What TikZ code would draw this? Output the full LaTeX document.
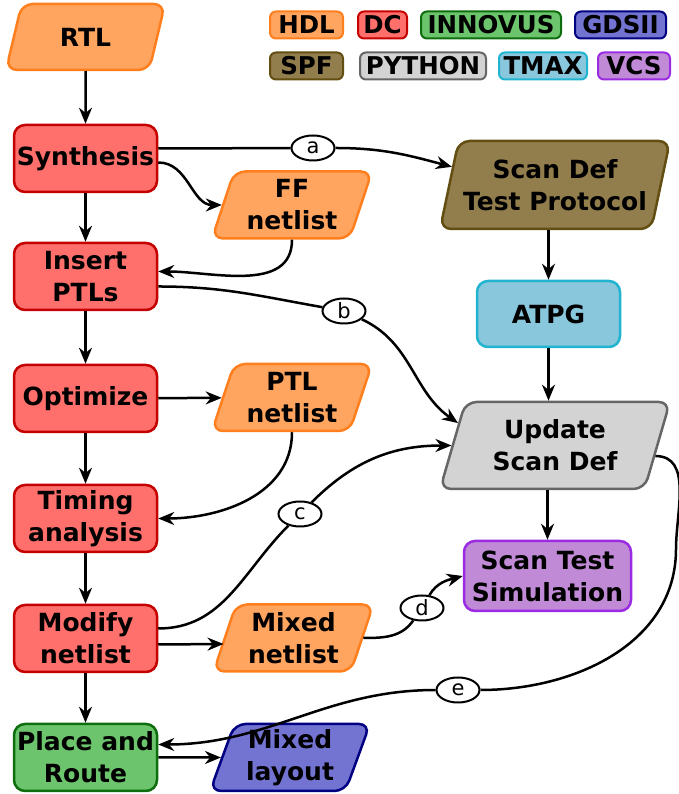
\documentclass[tikz,border=0pt]{standalone}
\usepackage{fontspec}
\setmainfont{DejaVu Sans}
\usetikzlibrary{shapes.geometric,arrows.meta}
\definecolor{hdlF}{HTML}{FFA55F}
\definecolor{hdlD}{HTML}{FF7F1E}
\definecolor{dcF}{HTML}{FF6F6B}
\definecolor{dcD}{HTML}{C40000}
\definecolor{innF}{HTML}{6CC46C}
\definecolor{innD}{HTML}{0E6E0E}
\definecolor{gdsF}{HTML}{7373D2}
\definecolor{gdsD}{HTML}{000080}
\definecolor{spfF}{HTML}{927D4C}
\definecolor{spfD}{HTML}{634E12}
\definecolor{pyF}{HTML}{D3D3D3}
\definecolor{pyD}{HTML}{666666}
\definecolor{tmF}{HTML}{89C7DD}
\definecolor{tmD}{HTML}{20B4D0}
\definecolor{vcsF}{HTML}{C08AD6}
\definecolor{vcsD}{HTML}{9A2BE2}
\begin{document}
\begin{tikzpicture}[x=1pt,y=1pt,
  every node/.style={align=center},
  txt/.style={font=\fontsize{25}{32}\selectfont\bfseries},
  box/.style={txt, rectangle, rounded corners=11pt, line width=2.5pt, minimum width=143pt, minimum height=67pt, inner sep=0pt},
  para/.style={txt, trapezium, trapezium left angle=71, trapezium right angle=109, trapezium stretches=true, rounded corners=11pt, line width=2.5pt, inner sep=0pt},
  hdl/.style={fill=hdlF, draw=hdlD},
  dc/.style={fill=dcF, draw=dcD},
  inn/.style={fill=innF, draw=innD},
  gds/.style={fill=gdsF, draw=gdsD},
  spf/.style={fill=spfF, draw=spfD},
  py/.style={fill=pyF, draw=pyD},
  tm/.style={fill=tmF, draw=tmD},
  vcs/.style={fill=vcsF, draw=vcsD},
  leg/.style={rectangle, rounded corners=6pt, line width=2pt, minimum height=27pt, inner xsep=0pt, inner ysep=1pt, font=\fontsize{24.5}{24.5}\selectfont\bfseries},
  conn/.style={line width=2.5pt, -{Stealth[length=16pt,width=13pt]}},
  plain/.style={line width=2.5pt},
  lbl/.style={ellipse, draw, line width=2pt, fill=white, minimum width=43pt, minimum height=25pt, inner sep=0pt, font=\fontsize{21}{21}\selectfont}
]
\useasboundingbox (0,0) rectangle (678,794);

% legend
\node[leg, hdl, minimum width=73pt] (lHDL) at (306.5,769) {HDL};
\node[leg, dc, minimum width=49pt] (lDC) at (382.5,769) {DC};
\node[leg, inn, minimum width=140pt] (lINN) at (491,769) {INNOVUS};
\node[leg, gds, minimum width=91pt] (lGDS) at (620.5,769) {GDSII};
\node[leg, spf, minimum width=73pt] (lSPF) at (306.5,728) {SPF};
\node[leg, py, minimum width=126pt] (lPY) at (423,728) {PYTHON};
\node[leg, tm, minimum width=88pt] (lTM) at (543,728) {TMAX};
\node[leg, vcs, minimum width=72pt] (lVCS) at (634,728) {VCS};

% left column
\node[para, hdl, minimum width=159pt, minimum height=66pt] (rtl) at (85.5,757) {RTL};
\node[box, dc] (syn) at (85.5,635.5) {Synthesis};
\node[para, hdl, minimum width=160pt, minimum height=67pt] (ff) at (292,589) {FF\\netlist};
\node[box, dc] (ins) at (85.5,517.5) {Insert\\PTLs};
\node[box, dc] (opt) at (85.5,395.5) {Optimize};
\node[para, hdl, minimum width=160pt, minimum height=67pt] (ptl) at (292,396.5) {PTL\\netlist};
\node[box, dc] (tim) at (85.5,275.5) {Timing\\analysis};
\node[box, dc] (mod) at (85.5,155.5) {Modify\\netlist};
\node[para, hdl, minimum width=160pt, minimum height=67pt] (mix) at (293.5,156) {Mixed\\netlist};
\node[box, inn] (par) at (85.5,36.5) {Place and\\Route};
\node[para, gds, minimum width=160pt, minimum height=67pt] (lay) at (290,36.5) {Mixed\\layout};

% right column
\node[para, spf, minimum width=230pt, minimum height=88pt] (sdt) at (555,609) {Scan Def\\Test Protocol};
\node[box, tm, minimum height=66pt] (atpg) at (548.5,480) {ATPG};
\node[para, py, minimum width=230pt, minimum height=87pt] (upd) at (555,348.5) {Update\\Scan Def};
\node[box, vcs, minimum width=167pt, minimum height=70pt] (sim) at (547.5,218) {Scan Test\\Simulation};

% edge labels
\node[lbl] (la) at (313,646) {a};
\node[lbl] (lb) at (344,483) {b};
\node[lbl] (lc) at (300,280) {c};
\node[lbl] (ld) at (422,186) {d};
\node[lbl] (le) at (458,104) {e};
\coordinate (eturn) at (676,245);

% vertical flow
\draw[conn] (rtl.south) -- (syn.north);
\draw[conn] (syn.south) -- (ins.north);
\draw[conn] (ins.south) -- (opt.north);
\draw[conn] (opt.south) -- (tim.north);
\draw[conn] (tim.south) -- (mod.north);
\draw[conn] (mod.south) -- (par.north);
\draw[conn] (atpg.north |- sdt.south) -- (atpg.north);
\draw[conn] (atpg.south) -- (atpg.south |- upd.north);
\draw[conn] (sim.north |- upd.south) -- (sim.north);

% horizontal
\draw[conn] (opt) -- (ptl);
\draw[conn] ([yshift=-6pt]mod.east) -- ([yshift=-6pt]mix.west);
\draw[conn] (par) -- (lay);

% curved
\draw[plain] ([yshift=10pt]syn.east) -- (la);
\draw[conn] (la) to[out=0,in=165] (sdt.170);
\draw[conn] ([yshift=-4pt]syn.east) to[out=0,in=180] (ff.west);
\draw[conn] (ff.south) to[out=-90,in=0] ([yshift=5pt]ins.east);
\draw[plain] ([yshift=-10pt]ins.east) to[out=0,in=170] (lb);
\draw[conn] (lb) to[out=-25,in=145] (upd.167);
\draw[conn] (ptl.south) to[out=-90,in=0] (tim.east);
\draw[plain] ([yshift=10pt]mod.east) to[out=0,in=225] (lc);
\draw[conn] (lc) to[out=45,in=180] (upd.180);
\draw[plain] (mix.east) to[out=0,in=235] (ld);
\draw[conn] (ld) to[out=60,in=195] (sim.west);
\draw[plain] (upd.-6) to[out=0,in=90] (eturn) to[out=-90,in=0] (le);
\draw[conn] (le) to[out=180,in=0] ([yshift=13pt]par.east);
\end{tikzpicture}
\end{document}
